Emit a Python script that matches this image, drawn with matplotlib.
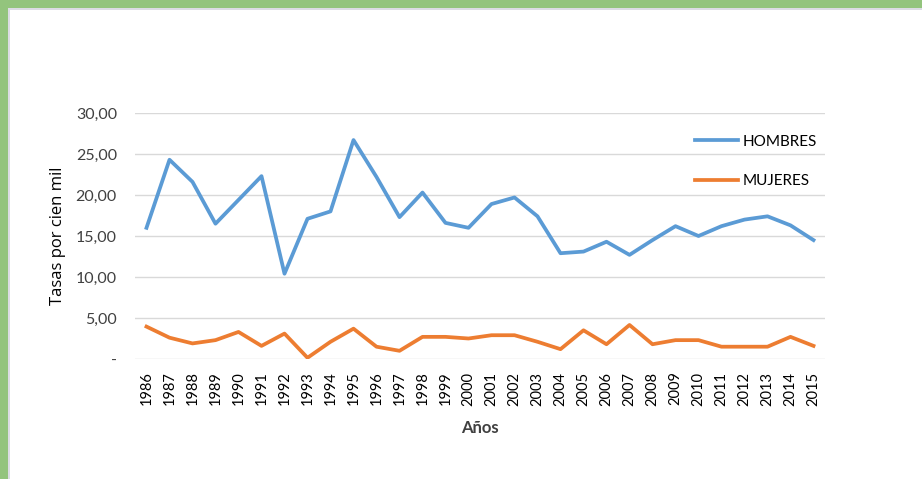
import matplotlib
matplotlib.use("Agg")
import matplotlib.pyplot as plt
from matplotlib.patches import Rectangle

years = [str(y) for y in range(1986, 2016)]
hombres = [16.0, 24.3, 21.6, 16.5, 19.4, 22.3, 10.4, 17.1, 18.0, 26.7,
           22.2, 17.3, 20.3, 16.6, 16.0, 18.9, 19.7, 17.4, 12.9, 13.1,
           14.3, 12.7, 14.5, 16.2, 15.0, 16.2, 17.0, 17.4, 16.3, 14.5]
mujeres = [3.95, 2.6, 1.9, 2.3, 3.3, 1.6, 3.1, 0.15, 2.1, 3.7,
           1.5, 1.0, 2.7, 2.7, 2.5, 2.9, 2.9, 2.1, 1.2, 3.5,
           1.8, 4.15, 1.8, 2.3, 2.3, 1.5, 1.5, 1.5, 2.7, 1.6]
ytick_vals = [0, 5, 10, 15, 20, 25, 30]
ytick_labels = ["-", "5,00", "10,00", "15,00", "20,00", "25,00", "30,00"]

plt.rcParams['font.family'] = ['Lato', 'DejaVu Sans']

W, H = 922, 479
fig = plt.figure(figsize=(W / 100, H / 100), dpi=100)
fig.patch.set_facecolor("white")

# green frame
green = "#93C47D"
fig.patches.append(Rectangle((0, 1 - 8 / H), 1, 8 / H, transform=fig.transFigure,
                             facecolor=green, edgecolor="none", zorder=0))
fig.patches.append(Rectangle((0, 0), 8 / W, 1, transform=fig.transFigure,
                             facecolor=green, edgecolor="none", zorder=0))
fig.patches.append(Rectangle((8 / W, 0), 1.5 / W, 1 - 8 / H, transform=fig.transFigure,
                             facecolor="#DCDCE4", edgecolor="none", zorder=0))
fig.patches.append(Rectangle((8 / W, 1 - 9.5 / H), 1, 1.5 / H, transform=fig.transFigure,
                             facecolor="#DCDCE4", edgecolor="none", zorder=0))

left, right = 135 / W, 825 / W
bottom, top = (H - 359) / H, (H - 113) / H
ax = fig.add_axes([left, bottom, right - left, top - bottom])

x = list(range(len(years)))
ax.plot(x, hombres, color="#5B9BD5", lw=2.7, label="HOMBRES", solid_joinstyle="round", zorder=3)
ax.plot(x, mujeres, color="#ED7D31", lw=2.7, label="MUJERES", solid_joinstyle="round", zorder=3)

ax.set_xlim(-0.5, len(years) - 0.5)
ax.set_ylim(0, 30)
ax.set_yticks(ytick_vals)
ax.set_yticklabels(ytick_labels, fontsize=11.5, color="#404040")
ax.set_xticks(x)
ax.set_xticklabels(years, rotation=90, fontsize=10.5, color="#000000")
ax.tick_params(axis="both", length=0)
ax.tick_params(axis="y", pad=13)
ax.tick_params(axis="x", pad=9)
for s in ax.spines.values():
    s.set_visible(False)
ax.grid(axis="y", color="#D9D9D9", lw=1)
ax.set_axisbelow(True)

ax.set_ylabel("Tasas por cien mil", fontsize=12, color="#000000", labelpad=7,
              family=["Open Sans", "DejaVu Sans"])
ax.set_xlabel("Años", fontsize=12, fontweight="bold", color="#404040", labelpad=10)

leg = ax.legend(loc="upper left", bbox_to_anchor=(0.8116, 0.912), frameon=False,
                fontsize=11, handlelength=2.8, handletextpad=0.3, labelspacing=1.65,
                borderpad=0, borderaxespad=0)

fig.savefig("out.png", dpi=100)
